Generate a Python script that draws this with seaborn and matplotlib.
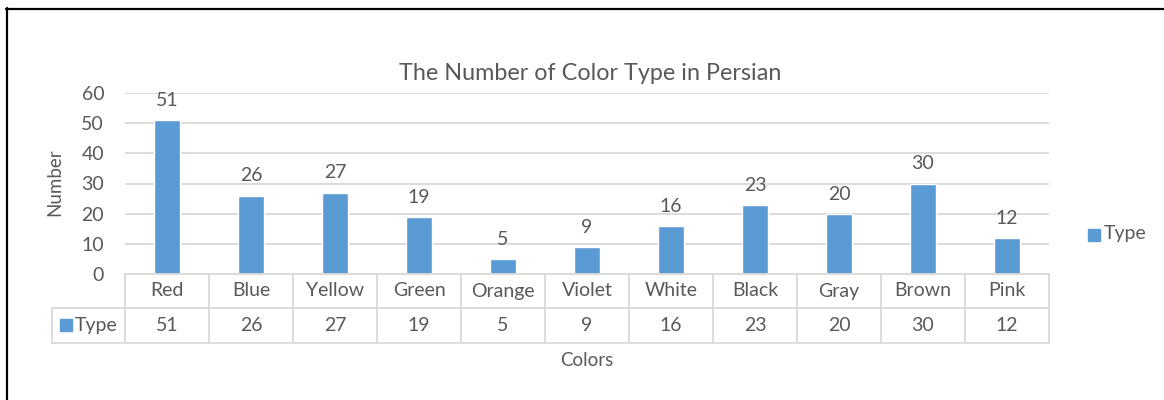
import matplotlib
matplotlib.use("Agg")
import matplotlib.pyplot as plt
import seaborn as sns
import pandas as pd
from matplotlib.patches import Rectangle
from matplotlib.lines import Line2D
from matplotlib.transforms import blended_transform_factory

# data
colors = ["Red", "Blue", "Yellow", "Green", "Orange", "Violet",
          "White", "Black", "Gray", "Brown", "Pink"]
counts = [51, 26, 27, 19, 5, 9, 16, 23, 20, 30, 12]
series_name = "Type"
y_ticks = [0, 10, 20, 30, 40, 50, 60]

BAR = "#5B9BD5"
TXT = "#595959"
GRID = "#D9D9D9"
FS = 14

W, H = 1164, 400


def fx(px):
    return px / W


def fy(py):
    return 1 - py / H


sns.set_theme(style="white")
plt.rcParams['font.family'] = ['Lato', 'DejaVu Sans']

fig = plt.figure(figsize=(W / 100, H / 100), dpi=100)
ax = fig.add_axes([fx(125), fy(274), fx(1049) - fx(125), fy(93) - fy(274)])

df = pd.DataFrame({"Colors": colors, "Number": counts})
sns.barplot(data=df, x="Colors", y="Number", color=BAR, saturation=1,
            width=0.31, ax=ax)

ax.bar_label(ax.containers[0], padding=8, fontsize=FS, color=TXT)

ax.set_xlim(-0.5, len(colors) - 0.5)
ax.set_ylim(0, 60)
ax.set_yticks(y_ticks)
ax.yaxis.grid(True, color=GRID, linewidth=1.3)
ax.set_axisbelow(True)
for s in ax.spines.values():
    s.set_visible(False)
ax.tick_params(axis="y", length=0, pad=15, labelsize=FS, labelcolor=TXT)
ax.set_xticks([])
ax.set_xlabel("")
ax.set_ylabel("")

# data table under the plot
tr = blended_transform_factory(ax.transData, ax.transAxes)
ppx = 181.0  # axes height in px
r1 = -34 / ppx
r2 = -69 / ppx
head_left = -0.5 - (125 - 52) / 84.0
n = len(colors)
lkw = dict(color=GRID, linewidth=1.3, transform=tr, clip_on=False)
ax.add_line(Line2D([-0.5, n - 0.5], [0, 0], **lkw))
ax.add_line(Line2D([head_left, n - 0.5], [r1, r1], **lkw))
ax.add_line(Line2D([head_left, n - 0.5], [r2, r2], **lkw))
ax.add_line(Line2D([head_left, head_left], [r1, r2], **lkw))
for k in range(n + 1):
    ax.add_line(Line2D([k - 0.5, k - 0.5], [0, r2], **lkw))
for i, (c, v) in enumerate(zip(colors, counts)):
    ax.text(i, r1 / 2, c, transform=tr, ha="center", va="center",
            fontsize=FS, color=TXT)
    ax.text(i, (r1 + r2) / 2, str(v), transform=tr, ha="center",
            va="center", fontsize=FS, color=TXT)

# row header with legend key
fig.patches.append(Rectangle((fx(60), fy(331)), fx(72) - fx(60), fy(319) - fy(331),
                             transform=fig.transFigure, color=BAR))
fig.text(fx(75), fy(325), series_name, ha="left", va="center",
         fontsize=FS, color=TXT)

# right legend
fig.patches.append(Rectangle((fx(1088), fy(241)), fx(1100) - fx(1088), fy(229) - fy(241),
                             transform=fig.transFigure, color=BAR))
fig.text(fx(1104), fy(234), series_name, ha="left", va="center",
         fontsize=FS, color=TXT)

# titles
fig.text(fx(590), fy(74), "The Number of Color Type in Persian", ha="center",
         va="center", fontsize=16.8, color=TXT)
fig.text(fx(587), fy(361), "Colors", ha="center", va="center",
         fontsize=13.5, color=TXT)
fig.text(fx(55), fy(182), "Number", ha="center", va="center", rotation=90,
         fontsize=13.5, color=TXT)

# chart border (top and left visible)
fig.add_artist(Line2D([fx(6), 1], [fy(8.5), fy(8.5)], color="black",
                      linewidth=1.6, transform=fig.transFigure))
fig.add_artist(Line2D([fx(6.5), fx(6.5)], [fy(8), 0], color="black",
                      linewidth=1.6, transform=fig.transFigure))

fig.savefig("out.png", dpi=100, facecolor="white")
